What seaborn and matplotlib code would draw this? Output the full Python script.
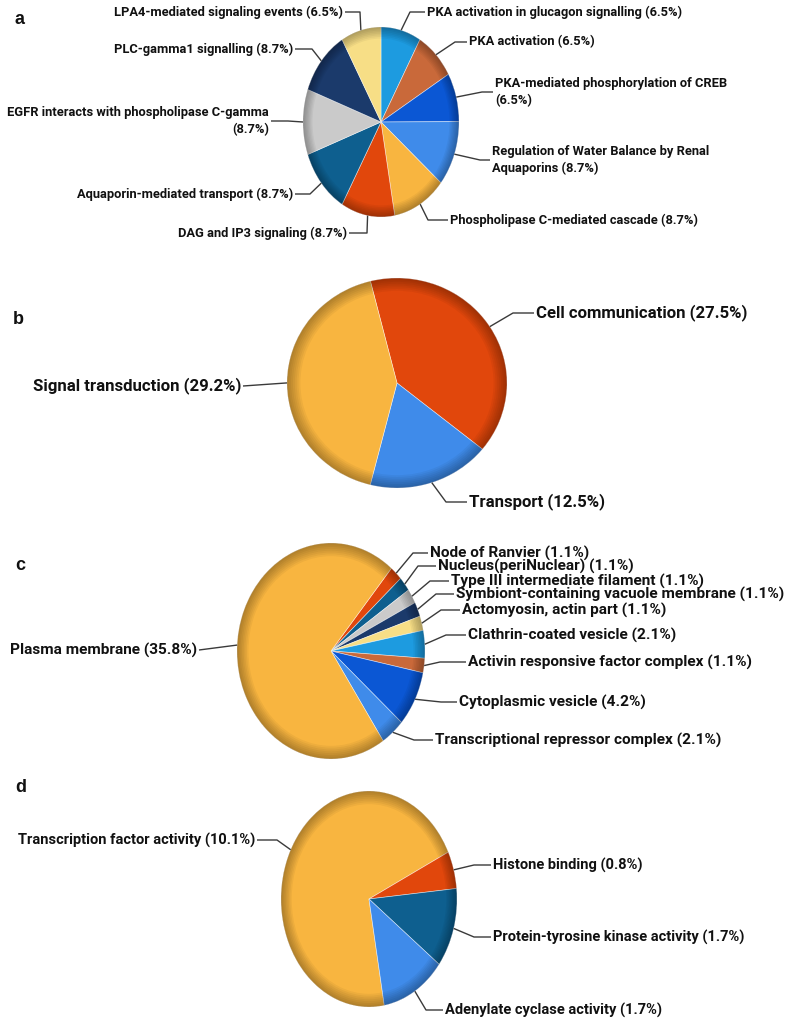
import numpy as np
import matplotlib
matplotlib.use("Agg")
import matplotlib.pyplot as plt
from matplotlib.patches import Wedge
from matplotlib import font_manager
import seaborn as sns

# ---------------- data ----------------
a_names = ["PKA activation in glucagon signalling", "PKA activation",
           "PKA-mediated phosphorylation of CREB",
           "Regulation of Water Balance by Renal\nAquaporins",
           "Phospholipase C-mediated cascade", "DAG and IP3 signaling",
           "Aquaporin-mediated transport",
           "EGFR interacts with phospholipase C-gamma",
           "PLC-gamma1 signalling", "LPA4-mediated signaling events"]
a_values = [6.5, 6.5, 6.5, 8.7, 8.7, 8.7, 8.7, 8.7, 8.7, 6.5]

b_names = ["Cell communication", "Transport", "Signal transduction"]
b_values = [27.5, 12.5, 29.2]

c_names = ["Node of Ranvier", "Nucleus(periNuclear)", "Type III intermediate filament",
           "Symbiont-containing vacuole membrane", "Actomyosin, actin part",
           "Clathrin-coated vesicle", "Activin responsive factor complex",
           "Cytoplasmic vesicle", "Transcriptional repressor complex", "Plasma membrane"]
c_values = [1.1, 1.1, 1.1, 1.1, 1.1, 2.1, 1.1, 4.2, 2.1, 35.8]

d_names = ["Transcription factor activity", "Histone binding",
           "Protein-tyrosine kinase activity", "Adenylate cyclase activity"]
d_values = [10.1, 0.8, 1.7, 1.7]

# ---------------- style ----------------
sns.set_theme(style="white")
names_avail = {f.name for f in font_manager.fontManager.ttflist}
narrow = "Liberation Sans Narrow" if "Liberation Sans Narrow" in names_avail else "Roboto"
plt.rcParams["font.family"] = [narrow, "DejaVu Sans"]

ORANGE, RED, TEAL, GREY = "#F8B540", "#E1470C", "#0E5F8F", "#CACACA"
NAVY, YELLOW, LBLUE, BROWN = "#1B3A6B", "#F7DE86", "#1D9BE0", "#C9693A"
BLUE, LBLUE2 = "#0B57D4", "#3F8BEA"

a_colors = sns.color_palette([LBLUE, BROWN, BLUE, LBLUE2, ORANGE, RED, TEAL, GREY, NAVY, YELLOW])
b_colors = sns.color_palette([RED, LBLUE2, ORANGE])
c_colors = sns.color_palette([RED, TEAL, GREY, NAVY, YELLOW, LBLUE, BROWN, BLUE, LBLUE2, ORANGE])
d_colors = sns.color_palette([ORANGE, RED, TEAL, LBLUE2])

W, H = 797, 1024
fig = plt.figure(figsize=(W / 100, H / 100), dpi=100)
fig.patch.set_facecolor("white")

oax = fig.add_axes([0, 0, 1, 1])
oax.set_xlim(0, W)
oax.set_ylim(H, 0)
oax.axis("off")
oax.set_zorder(10)
oax.patch.set_alpha(0)

LINE = "#3a3a3a"


def draw_panel(values, names, colors, center, radii, start, layout, seps, fsize):
    cx, cy = center
    rx, ry = radii
    ax = fig.add_axes([(cx - rx) / W, 1 - (cy + ry) / H, 2 * rx / W, 2 * ry / H])
    wedges, _ = ax.pie(values, colors=colors, startangle=start, counterclock=False,
                       radius=1, wedgeprops=dict(linewidth=0.5, edgecolor=(1, 1, 1, 0.55)))
    # bevel shading on the rim
    for k in range(7):
        ax.add_patch(Wedge((0, 0), 1, 0, 360, width=0.02 + 0.017 * k,
                           facecolor="black", edgecolor="none", alpha=0.045))
    ax.set_aspect("auto")
    ax.set_xlim(-1, 1)
    ax.set_ylim(-1, 1)
    ax.axis("off")
    for w, name, v, (tx, ty, ex), sep in zip(wedges, names, values, layout, seps):
        mid = np.deg2rad((w.theta1 + w.theta2) / 2)
        px = cx + rx * np.cos(mid)
        py = cy - ry * np.sin(mid)
        right = tx > cx
        gap = -2 if right else 2
        if ex is None:
            xs, ys = [px, tx + gap], [py, ty]
        else:
            xs, ys = [px, ex, tx + gap], [py, ty, ty]
        oax.plot(xs, ys, color=LINE, lw=1.0, solid_capstyle="butt")
        label = f"{name}{sep}({v}%)"
        oax.text(tx, ty, label, ha="left" if right else "right", va="center",
                 fontsize=fsize, fontweight="bold", color="#111111",
                 linespacing=1.45, multialignment="left" if right else "right")


# ---- panel a ----
a_layout = [(427, 12, 410), (469, 42, 455), (495, 92, 482), (492, 160, 480),
            (450, 220, 428), (347, 233, 367), (293, 194, 310), (269, 121, 288),
            (293, 49, 312), (343, 12, 360)]
a_seps = [" ", " ", "\n", " ", " ", " ", " ", "\n", " ", " "]
draw_panel(a_values, a_names, a_colors, (381, 122), (78, 95), 90, a_layout, a_seps, 9.3)

# ---- panel b ----
b_layout = [(536, 313, 513), (469, 502, 446), (241, 386, None)]
draw_panel(b_values, b_names, b_colors, (397, 383), (110, 105), 104, b_layout, [" "] * 3, 12.1)

# ---- panel c ----
c_layout = [(430, 553, 413), (438, 566, 418), (451, 581, 430), (456, 594, 436),
            (462, 610, 441), (468, 635, 446), (468, 662, 440), (459, 702, 441),
            (435, 740, 414), (197, 650, None)]
draw_panel(c_values, c_names, c_colors, (331, 651), (94, 108), 50, c_layout, [" "] * 10, 11.1)

# ---- panel d ----
d_layout = [(255, 840, 277), (493, 865, 474), (493, 937, 474), (445, 1010, 426)]
draw_panel(d_values, d_names, d_colors, (369, 899), (88, 108), 280, d_layout, [" "] * 4, 10.5)

# panel letters
for letter, (lx, ly) in zip("abcd", [(15, 20), (13, 320), (15, 565), (15, 787)]):
    oax.text(lx, ly, letter, ha="left", va="center", fontsize=13, fontweight="bold",
             family=["Liberation Sans", "DejaVu Sans"], color="#111111")

fig.savefig("out.png", dpi=100, facecolor="white")
